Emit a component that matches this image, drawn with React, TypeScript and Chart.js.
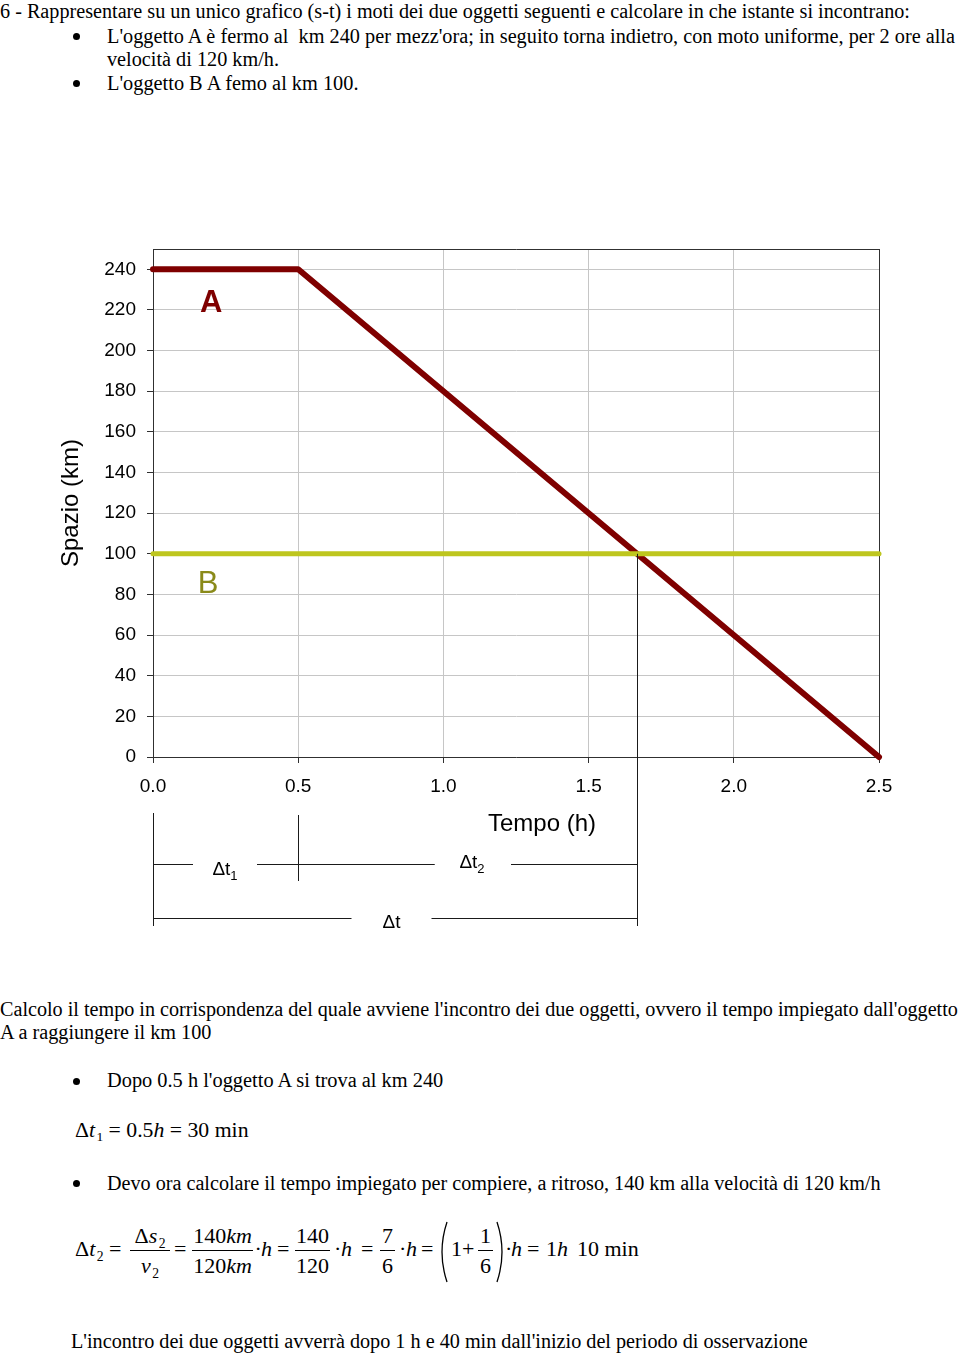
import React, { useEffect, useLayoutEffect, useRef } from "react";
import { Chart, registerables } from "chart.js";

Chart.register(...registerables);

// ---------- data ----------
const timeA = [0, 0.5, 2.5];
const spaceA = [240, 240, 0];
const timeB = [0, 2.5];
const spaceB = [100, 100];
const xTicks = [0, 0.5, 1.0, 1.5, 2.0, 2.5];
const yTicks = [0, 20, 40, 60, 80, 100, 120, 140, 160, 180, 200, 220, 240];
const xMax = 2.5;
const yMax = 250;
const dt1End = 0.5; // fine della sosta
const meetTime = 1 + 40 / 60; // 1 h 40 min
const labelA = { x: 0.2, y: 223, text: "A" };
const labelB = { x: 0.19, y: 85, text: "B" };

const SANS = '"Liberation Sans", Arial, sans-serif';
const SERIF = '"Liberation Serif", "Times New Roman", serif';
const A_COLOR = "#7f0000";
const B_COLOR = "#bec61e";
const B_TEXT = "#8a8a1a";
const GRID = "#c6c6c6";
const FRAME = "#303030";

const overlay = {
  id: "overlay",
  afterDraw(chart: any) {
    const { ctx, chartArea: a, scales } = chart;
    const x = scales.x;
    const y = scales.y;
    const px = (v: number) => Math.round(x.getPixelForValue(v)) + 0.5;
    const seg = (x1: number, y1: number, x2: number, y2: number) => {
      ctx.beginPath();
      ctx.moveTo(x1, y1);
      ctx.lineTo(x2, y2);
      ctx.stroke();
    };
    ctx.save();
    ctx.strokeStyle = FRAME;
    ctx.lineWidth = 1;
    seg(a.left, Math.round(a.top) + 0.5, a.right + 0.5, Math.round(a.top) + 0.5);

    // series labels
    ctx.textAlign = "center";
    ctx.textBaseline = "middle";
    ctx.font = `bold 31px ${SANS}`;
    ctx.fillStyle = A_COLOR;
    ctx.fillText(labelA.text, x.getPixelForValue(labelA.x), y.getPixelForValue(labelA.y));
    ctx.font = `31px ${SANS}`;
    ctx.fillStyle = B_TEXT;
    ctx.fillText(labelB.text, x.getPixelForValue(labelB.x), y.getPixelForValue(labelB.y));

    // axis titles
    ctx.fillStyle = "#000";
    ctx.font = `24px ${SANS}`;
    ctx.textBaseline = "alphabetic";
    ctx.fillText("Tempo (h)", 542, a.bottom + 74);
    ctx.save();
    ctx.translate(71, (a.top + a.bottom) / 2);
    ctx.rotate(-Math.PI / 2);
    ctx.textBaseline = "middle";
    ctx.fillText("Spazio (km)", 0, 0);
    ctx.restore();

    // annotations
    const b = a.bottom;
    const x0 = px(0);
    const x1 = px(dt1End);
    const xm = px(meetTime);
    const ym = y.getPixelForValue(spaceB[0]);
    ctx.strokeStyle = "#1a1a1a";
    seg(xm, ym, xm, b + 169);
    seg(x0, b + 56, x0, b + 169);
    seg(x1, b + 58, x1, b + 124);
    const d1 = b + 107.5;
    const d2 = b + 161.5;
    const gapLine = (xa: number, xb: number, yy: number, c: number, half: number) => {
      seg(xa, yy, c - half, yy);
      seg(c + half, yy, xb, yy);
    };
    const c1 = (x0 + x1) / 2 - 1;
    const c2 = (x1 + xm) / 2 + 4;
    const c3 = (x0 + xm) / 2 - 4;
    gapLine(x0, x1 + 136, d1, c1, 32);
    gapLine(x1 + 136, xm, d1, c2, 39);
    gapLine(x0, xm, d2, c3, 40);

    const delta = (txt: string, sub: string, cx: number, base: number) => {
      ctx.font = `19px ${SANS}`;
      const w1 = ctx.measureText(txt).width;
      ctx.font = `13px ${SANS}`;
      const w2 = sub ? ctx.measureText(sub).width : 0;
      const left = cx - (w1 + w2) / 2;
      ctx.textAlign = "left";
      ctx.textBaseline = "alphabetic";
      ctx.font = `19px ${SANS}`;
      ctx.fillText(txt, left, base);
      if (sub) {
        ctx.font = `13px ${SANS}`;
        ctx.fillText(sub, left + w1, base + 5);
      }
    };
    delta("\u0394t", "1", c1, b + 118);
    delta("\u0394t", "2", c2, b + 111);
    delta("\u0394t", "", c3, b + 171);
    ctx.restore();
  },
};

function ChartCanvas() {
  const ref = useRef<HTMLCanvasElement>(null);
  useEffect(() => {
    if (!ref.current) return;
    const chart = new Chart(ref.current, {
      type: "line",
      data: {
        datasets: [
          {
            label: "B",
            data: timeB.map((t, i) => ({ x: t, y: spaceB[i] })),
            borderColor: B_COLOR,
            borderWidth: 5,
            pointRadius: 0,
            borderCapStyle: "round",
            clip: false,
          } as any,
          {
            label: "A",
            data: timeA.map((t, i) => ({ x: t, y: spaceA[i] })),
            borderColor: A_COLOR,
            borderWidth: 6,
            pointRadius: 0,
            borderCapStyle: "round",
            borderJoinStyle: "round",
            clip: false,
          } as any,
        ],
      },
      options: {
        responsive: false,
        animation: false,
        events: [],
        layout: { padding: { left: 0, right: 81, top: 9, bottom: 143 } },
        plugins: { legend: { display: false }, tooltip: { enabled: false } },
        scales: {
          x: {
            type: "linear",
            min: 0,
            max: xMax,
            afterBuildTicks: (s: any) => {
              s.ticks = xTicks.map((v) => ({ value: v }));
            },
            afterFit: (s: any) => {
              s.height = 40;
              s.paddingLeft = 0;
              s.paddingRight = 0;
            },
            ticks: {
              callback: (v: any) => Number(v).toFixed(1),
              font: { family: SANS, size: 19 },
              color: "#000",
              padding: 12,
              maxRotation: 0,
              autoSkip: false,
            },
            grid: {
              color: (c: any) => (c.tick && c.tick.value === xMax ? FRAME : GRID),
              tickColor: FRAME,
              tickLength: 6,
              lineWidth: 1,
            },
            border: { color: FRAME, width: 1 },
          },
          y: {
            type: "linear",
            min: 0,
            max: yMax,
            afterBuildTicks: (s: any) => {
              s.ticks = yTicks.map((v) => ({ value: v }));
            },
            afterFit: (s: any) => {
              s.width = 153;
              s.paddingTop = 0;
              s.paddingBottom = 0;
            },
            ticks: {
              font: { family: SANS, size: 19 },
              color: "#000",
              padding: 11,
              autoSkip: false,
            },
            grid: { color: GRID, tickColor: FRAME, tickLength: 6, lineWidth: 1 },
            border: { color: FRAME, width: 1 },
          },
        },
      } as any,
      plugins: [overlay],
    });
    return () => chart.destroy();
  }, []);
  return (
    <canvas
      ref={ref}
      width={960}
      height={700}
      style={{ position: "absolute", left: 0, top: 240, width: 960, height: 700 }}
    />
  );
}

function Fit({ x, cy, w, size = 20, children }: any) {
  const ref = useRef<HTMLDivElement>(null);
  useLayoutEffect(() => {
    const el = ref.current;
    if (!el || !w) return;
    const fit = () => {
      const nat = el.offsetWidth;
      if (nat) el.style.transform = `translateY(-50%) scaleX(${w / nat})`;
    };
    fit();
    (document as any).fonts?.ready?.then(fit);
  }, [w]);
  return (
    <div
      ref={ref}
      style={{
        position: "absolute",
        left: x,
        top: cy,
        width: "max-content",
        transform: "translateY(-50%)",
        transformOrigin: "left center",
        fontSize: size,
        lineHeight: 1,
        whiteSpace: "pre",
        fontFamily: SERIF,
        color: "#000",
      }}
    >
      {children}
    </div>
  );
}

function P({ x, cy, size = 22, children }: any) {
  return (
    <div
      style={{
        position: "absolute",
        left: x,
        top: cy,
        transform: "translateY(-50%)",
        fontSize: size,
        lineHeight: 1,
        whiteSpace: "pre",
        fontFamily: SERIF,
        width: "max-content",
      }}
    >
      {children}
    </div>
  );
}

function Bullet({ cy }: any) {
  return (
    <div
      style={{
        position: "absolute",
        left: 72.5,
        top: cy - 3.5,
        width: 7,
        height: 7,
        borderRadius: "50%",
        background: "#000",
      }}
    />
  );
}

function Frac({ cx, cy, w, num, den }: any) {
  const t = {
    position: "absolute" as const,
    left: cx,
    transform: "translate(-50%,-50%)",
    fontSize: 22,
    lineHeight: 1,
    whiteSpace: "pre" as const,
    fontFamily: SERIF,
    width: "max-content",
  };
  return (
    <>
      <div style={{ position: "absolute", left: cx - w / 2, width: w, top: cy, height: 1, background: "#000" }} />
      <div style={{ ...t, top: cy - 14 }}>{num}</div>
      <div style={{ ...t, top: cy + 16 }}>{den}</div>
    </>
  );
}

const Sub = ({ children }: any) => (
  <span style={{ fontSize: "0.62em", position: "relative", top: "0.35em", marginLeft: "0.1em" }}>{children}</span>
);
const I = ({ children }: any) => <i>{children}</i>;

function Paren({ x, flip }: any) {
  return (
    <svg width={12} height={62} style={{ position: "absolute", left: x, top: 1221 }} viewBox="0 0 12 62">
      <path d={flip ? "M2,1 Q12,31 2,61" : "M10,1 Q0,31 10,61"} stroke="#000" strokeWidth={1.3} fill="none" />
    </svg>
  );
}

export default function App() {
  return (
    <div
      style={{
        position: "absolute",
        left: 0,
        top: 0,
        width: 960,
        height: 1355,
        background: "#fff",
        overflow: "hidden",
        fontFamily: SERIF,
      }}
    >
      <Fit x={0} cy={11} w={910}>
        6 - Rappresentare su un unico grafico (s-t) i moti dei due oggetti seguenti e calcolare in che istante si incontrano:
      </Fit>
      <Bullet cy={36} />
      <Fit x={107} cy={36} w={848}>
        L'oggetto A è fermo al  km 240 per mezz'ora; in seguito torna indietro, con moto uniforme, per 2 ore alla
      </Fit>
      <Fit x={107} cy={59} w={172}>velocità di 120 km/h.</Fit>
      <Bullet cy={83} />
      <Fit x={107} cy={83} w={251}>L'oggetto B A femo al km 100.</Fit>

      <ChartCanvas />

      <Fit x={0} cy={1009} w={958}>
        Calcolo il tempo in corrispondenza del quale avviene l'incontro dei due oggetti, ovvero il tempo impiegato dall'oggetto
      </Fit>
      <Fit x={0} cy={1032} w={211}>A a raggiungere il km 100</Fit>
      <Bullet cy={1081} />
      <Fit x={107} cy={1080} w={336}>Dopo 0.5 h l'oggetto A si trova al km 240</Fit>
      <Fit x={75} cy={1130} w={174}>
        <>
          Δ<I>t</I>
          <Sub>1</Sub> = 0.5<I>h</I> = 30 min
        </>
      </Fit>
      <Bullet cy={1183} />
      <Fit x={107} cy={1183} w={774}>
        Devo ora calcolare il tempo impiegato per compiere, a ritroso, 140 km alla velocità di 120 km/h
      </Fit>

      {/* formula */}
      <P x={75} cy={1249}>
        Δ<I>t</I>
        <Sub>2</Sub>
      </P>
      <P x={109} cy={1249}>=</P>
      <Frac cx={150} cy={1250} w={40} num={<>Δ<I>s</I><Sub>2</Sub></>} den={<><I>v</I><Sub>2</Sub></>} />
      <P x={174} cy={1249}>=</P>
      <Frac cx={222.5} cy={1250} w={61} num={<>140<I>km</I></>} den={<>120<I>km</I></>} />
      <P x={254.5} cy={1249}>·</P>
      <P x={261} cy={1249}><I>h</I></P>
      <P x={277} cy={1249}>=</P>
      <Frac cx={312.5} cy={1250} w={35} num="140" den="120" />
      <P x={334} cy={1249}>·</P>
      <P x={341} cy={1249}><I>h</I></P>
      <P x={361} cy={1249}>=</P>
      <Frac cx={387.5} cy={1250} w={15} num="7" den="6" />
      <P x={399} cy={1249}>·</P>
      <P x={406} cy={1249}><I>h</I></P>
      <P x={421} cy={1249}>=</P>
      <Paren x={437} />
      <P x={451} cy={1249}>1+</P>
      <Frac cx={485.5} cy={1250} w={15} num="1" den="6" />
      <Paren x={495} flip />
      <P x={505} cy={1249}>·</P>
      <P x={511} cy={1249}><I>h</I></P>
      <P x={527} cy={1249}>=</P>
      <P x={546} cy={1249}>1<I>h</I></P>
      <P x={577} cy={1249}>10 min</P>

      <Fit x={71} cy={1341} w={737}>
        L'incontro dei due oggetti avverrà dopo 1 h e 40 min dall'inizio del periodo di osservazione
      </Fit>
    </div>
  );
}
